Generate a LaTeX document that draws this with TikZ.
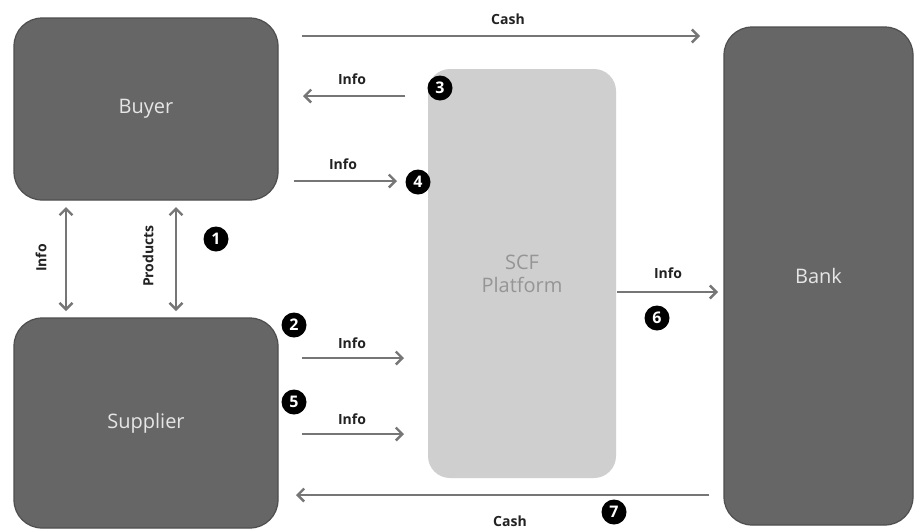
\documentclass[tikz,border=0pt]{standalone}
\usepackage{fontspec}
\setmainfont{Open Sans}
\usetikzlibrary{arrows.meta}
\definecolor{boxfill}{HTML}{666666}
\definecolor{boxline}{HTML}{4E4E4E}
\definecolor{boxtext}{HTML}{E6E6E6}
\definecolor{scffill}{HTML}{CFCFCF}
\definecolor{scftext}{HTML}{959595}
\definecolor{arrowc}{HTML}{767676}
\definecolor{labc}{HTML}{222222}
\begin{document}
\begin{tikzpicture}[x=1pt,y=-1pt,
  box/.style={draw=boxline, line width=1.2pt, fill=boxfill, rounded corners=28pt,
    text=boxtext, font=\fontsize{20}{22}\selectfont, inner sep=0pt},
  scfbox/.style={fill=scffill, rounded corners=22pt, text=scftext,
    font=\fontsize{20}{23}\selectfont, align=center, inner sep=0pt},
  flow/.style={draw=arrowc, line width=2.8pt, -{Straight Barb[length=6.5pt,width=13pt,line width=2.4pt]}},
  bflow/.style={draw=arrowc, line width=2.8pt, {Straight Barb[length=6.5pt,width=13pt,line width=2.4pt]}-{Straight Barb[length=6.5pt,width=13pt,line width=2.4pt]}},
  lab/.style={text=labc, font=\bfseries\fontsize{14}{16}\selectfont, inner sep=0pt},
  badge/.style={circle, fill=black, text=white, minimum size=25pt, inner sep=0pt,
    font=\bfseries\fontsize{16}{16}\selectfont}]
\useasboundingbox (0,0) rectangle (921,531);
\fill[white] (0,0) rectangle (921,531);

% main boxes
\node[box, minimum width=264pt, minimum height=182pt] (buyer) at (146,109) {Buyer};
\node[box, minimum width=264pt, minimum height=210pt] (supplier) at (146,423) {Supplier};
\node[scfbox, minimum width=188pt, minimum height=409pt] (scf) at (522,273.5) {SCF\\Platform};
\node[box, minimum width=189pt, minimum height=498pt] (bank) at (818.5,276) {Bank};

% endpoints
\coordinate (c1s) at (302,36);   \coordinate (c1e) at (700,36);
\coordinate (i3s) at (405,96);   \coordinate (i3e) at (303,96);
\coordinate (i4s) at (294,181);  \coordinate (i4e) at (397,181);
\coordinate (v1t) at (66,207);   \coordinate (v1b) at (66,311);
\coordinate (v2t) at (176,207);  \coordinate (v2b) at (176,311);
\coordinate (i2s) at (302,358);  \coordinate (i2e) at (404,358);
\coordinate (i5s) at (302,434);  \coordinate (i5e) at (404,434);
\coordinate (i6s) at (617,292);  \coordinate (i6e) at (718,292);
\coordinate (c2s) at (709,495);  \coordinate (c2e) at (296,495);

% connectors
\draw[flow] (c1s) -- (c1e);
\draw[flow] (i3s) -- (i3e);
\draw[flow] (i4s) -- (i4e);
\draw[bflow] (v1t) -- (v1b);
\draw[bflow] (v2t) -- (v2b);
\draw[flow] (i2s) -- (i2e);
\draw[flow] (i5s) -- (i5e);
\draw[flow] (i6s) -- (i6e);
\draw[flow] (c2s) -- (c2e);

% labels
\node[lab] (lc1) at (508,19) {Cash};
\node[lab] (l3) at (352,79) {Info};
\node[lab] (l4) at (343,164) {Info};
\node[lab, rotate=90] (lv1) at (41,258) {Info};
\node[lab, rotate=90] (lv2) at (148,256) {Products};
\node[lab] (l2) at (352,343) {Info};
\node[lab] (l5) at (352,419) {Info};
\node[lab] (l6) at (668,273) {Info};
\node[lab] (lc2) at (510,521) {Cash};

% badges
\node[badge] (b1) at (216,239) {1};
\node[badge] (b2) at (294,325) {2};
\node[badge] (b3) at (440,88) {3};
\node[badge] (b4) at (418,182) {4};
\node[badge] (b5) at (294,402) {5};
\node[badge] (b6) at (657,318) {6};
\node[badge] (b7) at (614,512) {7};
\end{tikzpicture}
\end{document}
